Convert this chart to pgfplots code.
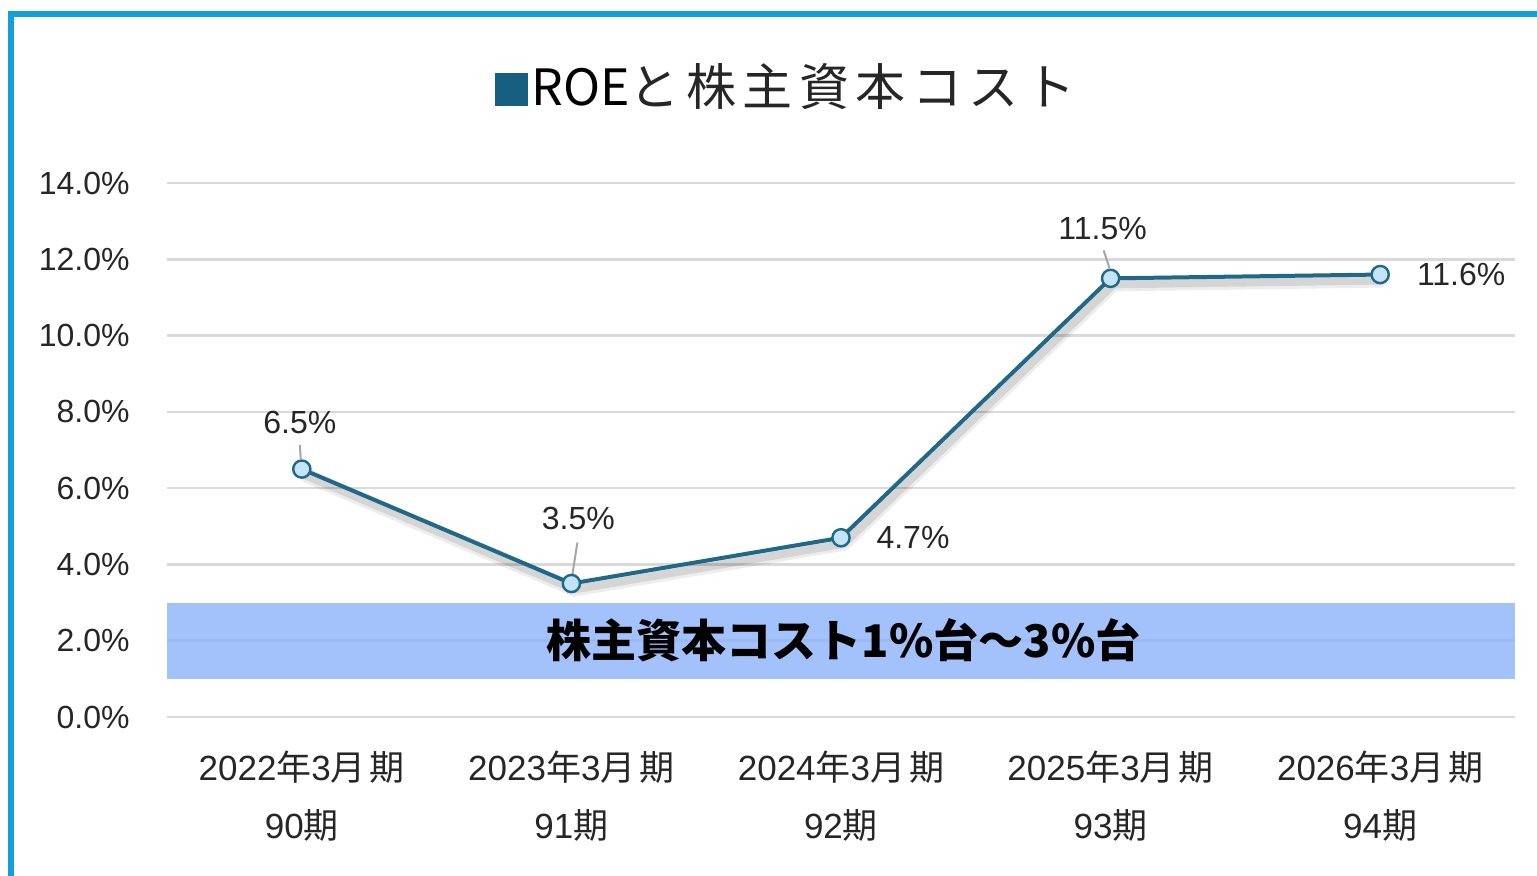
\documentclass[border=0pt]{standalone}
\usepackage{pgfplots}
\pgfplotsset{compat=1.18}
\usepackage{fontspec}
\setmainfont{Liberation Sans}
\newfontfamily\cjk{Noto Sans CJK JP}
\definecolor{frameblue}{HTML}{149FD7}
\definecolor{roeline}{HTML}{1F6887}
\definecolor{roemark}{HTML}{C2E4F6}
\definecolor{bandblue}{HTML}{8CB2F9}
\definecolor{gridgray}{HTML}{D9D9D9}
\definecolor{txt}{HTML}{262626}
\definecolor{titlesq}{HTML}{175F80}
\definecolor{leader}{HTML}{A6A6A6}
\newcommand\cat[2]{#1{\cjk 年}3{\cjk 月\hspace{2pt}期}\\[9pt]#2{\cjk 期}}
\begin{document}
\begin{tikzpicture}
\useasboundingbox (0pt,0pt) rectangle (768.5pt,437.5pt);
\draw[frameblue, line width=3pt] (5.5pt,-10pt) -- (5.5pt,430.5pt) -- (780pt,430.5pt);
\node[anchor=base, inner sep=0pt] at (392.5pt,384.5pt)
  {\fontsize{25}{25}\selectfont\textcolor{titlesq}{\rule{16.5pt}{16.5pt}}\hspace{2pt}{\cjk ROE}{\cjk\color{txt}\addfontfeature{LetterSpace=13} と株主資本コスト}};
\begin{axis}[
  at={(83.5pt,79pt)}, anchor=south west,
  scale only axis, width=674pt, height=267pt,
  xmin=-0.5, xmax=4.5, ymin=0, ymax=14,
  axis line style={draw=none},
  major tick length=0pt,
  ytick={0,2,...,14},
  ymajorgrids, grid style={gridgray, line width=1.3pt},
  xtick={0,...,4},
  xticklabels={\cat{2022}{90},\cat{2023}{91},\cat{2024}{92},\cat{2025}{93},\cat{2026}{94}},
  xticklabel style={align=center, anchor=north, inner sep=0pt, yshift=-17pt, text=txt, font=\fontsize{17.5}{20}\selectfont},
  yticklabel={\pgfmathprintnumber[fixed,fixed zerofill,precision=1]{\tick}\%},
  yticklabel style={anchor=east, inner sep=0pt, xshift=-18.5pt, text=txt, font=\fontsize{16}{19}\selectfont},
  /pgf/number format/assume math mode=true,
  clip=false,
]
\addplot[draw=none, fill=bandblue, fill opacity=0.8] coordinates {(-0.5,1) (4.5,1) (4.5,3) (-0.5,3)} -- cycle;
\node[text=black] at (axis cs:2.01,2) {\cjk\bfseries\fontsize{22.5}{22.5}\selectfont 株主資本コスト1\%台～3\%台};
% shadow
\addplot[black, opacity=0.07, line width=7pt, xshift=1.5pt, yshift=-3pt, forget plot] coordinates {(0,6.5) (1,3.5) (2,4.7) (3,11.5) (4,11.6)};
\addplot[black, opacity=0.10, line width=4pt, xshift=1.5pt, yshift=-3pt, forget plot] coordinates {(0,6.5) (1,3.5) (2,4.7) (3,11.5) (4,11.6)};
\addplot[roeline, line width=2pt, mark=*, mark size=4.3pt, mark options={fill=roemark, draw=roeline, line width=1.2pt}] coordinates {(0,6.5) (1,3.5) (2,4.7) (3,11.5) (4,11.6)};
% leaders
\draw[leader, line width=1pt] (axis cs:0,6.5) ++(-0.5pt,5pt) -- ++(-0.5pt,7pt);
\draw[leader, line width=1pt] (axis cs:1,3.5) ++(0.5pt,4.5pt) -- ++(2.5pt,16pt);
\draw[leader, line width=1pt] (axis cs:3,11.5) ++(-0.5pt,5pt) -- ++(-3pt,9pt);
\begin{scope}[every node/.style={text=txt, font=\fontsize{16}{19}\selectfont, inner sep=0pt}]
\node at (axis cs:0,6.5) [xshift=-1pt, yshift=23.5pt] {6.5\%};
\node at (axis cs:1,3.5) [xshift=3.5pt, yshift=32.5pt] {3.5\%};
\node at (axis cs:2,4.7) [xshift=36pt, yshift=0pt] {4.7\%};
\node at (axis cs:3,11.5) [xshift=-4pt, yshift=25pt] {11.5\%};
\node at (axis cs:4,11.6) [xshift=40.5pt, yshift=0pt] {11.6\%};
\end{scope}
\end{axis}
\end{tikzpicture}
\end{document}
